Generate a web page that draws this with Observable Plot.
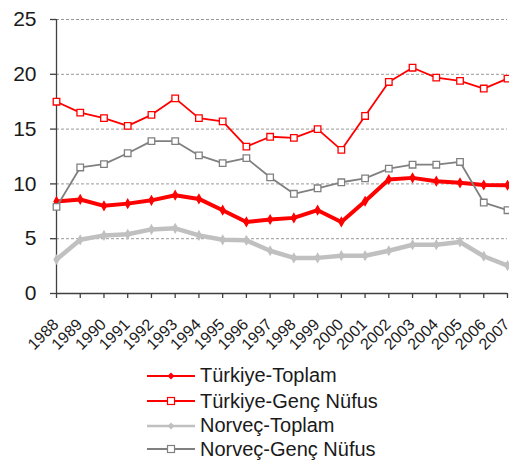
<!DOCTYPE html>
<html>
<head>
<meta charset="utf-8">
<script src="https://cdn.jsdelivr.net/npm/d3@7"></script>
<script src="https://cdn.jsdelivr.net/npm/@observablehq/plot@0.6"></script>
<style>
  body { margin: 0; background: #fff; font-family: Arial, "Liberation Sans", sans-serif; }
  #chart { width: 509px; }
  #legend { position: relative; width: 509px; height: 105px; }
  .row { position: absolute; left: 147px; height: 24px; display: flex; align-items: center; font-size: 20px; color: #1a1a1a; white-space: nowrap; }
  .row svg { margin-right: 5px; }
</style>
</head>
<body>
<div id="chart"></div>
<div id="legend"></div>
<script>
const years = [1988,1989,1990,1991,1992,1993,1994,1995,1996,1997,1998,1999,2000,2001,2002,2003,2004,2005,2006,2007];
const turkiyeToplam = [8.4,8.58,8.0,8.2,8.5,8.97,8.63,7.6,6.53,6.75,6.9,7.6,6.53,8.42,10.4,10.55,10.25,10.1,9.9,9.88];
const turkiyeGenc = [17.5,16.5,16.0,15.3,16.3,17.8,16.0,15.7,13.4,14.3,14.2,15.0,13.1,16.2,19.3,20.6,19.7,19.4,18.7,19.6];
const norvecToplam = [3.1,4.9,5.3,5.4,5.85,5.95,5.3,4.9,4.85,3.9,3.25,3.25,3.45,3.45,3.9,4.45,4.45,4.7,3.4,2.55];
const norvecGenc = [7.9,11.5,11.8,12.8,13.9,13.9,12.6,11.9,12.35,10.6,9.1,9.6,10.15,10.5,11.4,11.75,11.75,12.0,8.3,7.6];
const seriesNames = ["Türkiye-Toplam","Türkiye-Genç Nüfus","Norveç-Toplam","Norveç-Genç Nüfus"];
const yTicks = [0,5,10,15,20,25];
const gridTicks = [5,10,15,20,25];

const styles = [
  {color:"#ff0000", width:4, symbol:"diamond", r:2.6, fill:"#ff0000"},
  {color:"#ff0000", width:1.8, symbol:"square", r:3.7, fill:"white"},
  {color:"#c0c0c0", width:4.5, symbol:"diamond", r:2.6, fill:"#c0c0c0"},
  {color:"#808080", width:1.8, symbol:"square", r:3.7, fill:"white"}
];
const seriesValues = [turkiyeToplam, turkiyeGenc, norvecToplam, norvecGenc];
const tables = seriesValues.map((vals, i) => years.map((yr, j) => ({year: yr, value: vals[j], series: seriesNames[i]})));

const marks = [
  Plot.ruleY(gridTicks, {stroke:"#999", strokeWidth:1, strokeDasharray:"3,2"}),
  Plot.ruleY([0], {stroke:"#404040", strokeWidth:1.3}),
  Plot.ruleX([1988], {y1:0, y2:25, stroke:"#404040", strokeWidth:1.3}),
  Plot.axisX({ticks: years, tickSize: 5, tickFormat: () => "", stroke:"#404040", strokeWidth:1.3, label: null}),
  Plot.axisY({ticks: yTicks, tickSize: 6, tickPadding: 14, fontSize: 21, stroke:"#404040", strokeWidth:1.3, color:"#1a1a1a", label: null}),
  Plot.text(years, {x: d => d, y: 0, text: d => String(d), rotate: -45, textAnchor: "end", lineAnchor: "bottom", dx: 3, dy: 32, fontSize: 16, fill: "#1a1a1a"})
];
tables.forEach((t, i) => {
  const s = styles[i];
  marks.push(Plot.line(t, {x:"year", y:"value", stroke:s.color, strokeWidth:s.width, strokeLinejoin:"round"}));
  marks.push(Plot.dot(t, {x:"year", y:"value", symbol:s.symbol, r:s.r, stroke:s.color, strokeWidth:1.3, fill:s.fill}));
});

const chart = Plot.plot({
  width: 509,
  height: 355,
  marginTop: 19,
  marginBottom: 62,
  marginLeft: 56,
  marginRight: 2,
  style: {fontFamily: "Arial, 'Liberation Sans', sans-serif", background: "white", overflow: "visible"},
  x: {type: "linear", domain: [1988, 2007]},
  y: {domain: [0, 25]},
  marks
});
document.getElementById("chart").appendChild(chart);

// legend
const legend = document.getElementById("legend");
const centers = [20.7, 46, 70.7, 94];
seriesNames.forEach((name, i) => {
  const s = styles[i];
  const row = document.createElement("div");
  row.className = "row";
  row.style.top = (centers[i] - 12) + "px";
  const sw = d3.create("svg").attr("width", 48).attr("height", 24);
  sw.append("line").attr("x1", 0).attr("x2", 48).attr("y1", 12).attr("y2", 12)
    .attr("stroke", s.color).attr("stroke-width", i === 2 ? 2.5 : 2);
  if (s.symbol === "square") {
    sw.append("rect").attr("x", 20.5).attr("y", 8.5).attr("width", 7).attr("height", 7)
      .attr("fill", "white").attr("stroke", s.color).attr("stroke-width", 1.2);
  } else {
    sw.append("path").attr("d", "M24,8.5L27.5,12L24,15.5L20.5,12Z").attr("fill", s.color);
  }
  row.appendChild(sw.node());
  const span = document.createElement("span");
  span.textContent = name;
  row.appendChild(span);
  legend.appendChild(row);
});
</script>
</body>
</html>
